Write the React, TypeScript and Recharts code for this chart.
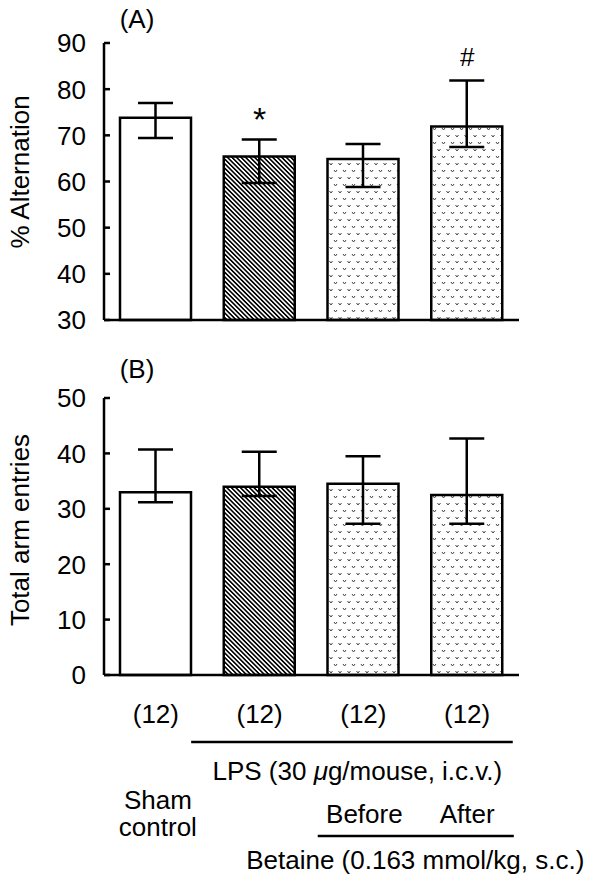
import React from 'react';
import { ComposedChart, Bar, Line, XAxis, YAxis, ErrorBar, Cell, LabelList, Label } from 'recharts';

// ---- data ----
const groups = ['Sham control', 'LPS', 'LPS + Betaine before', 'LPS + Betaine after'];
const nLabels = ['(12)', '(12)', '(12)', '(12)'];
const alternation = [73.8, 65.4, 64.9, 71.9];
const alternationErrLow = [4.4, 5.7, 6.1, 4.4];
const alternationErrHigh = [3.2, 3.7, 3.2, 10.0];
const alternationSig = ['', '*', '', '#'];
const entries = [33.0, 34.0, 34.5, 32.5];
const entriesErrLow = [1.8, 1.7, 7.2, 5.2];
const entriesErrHigh = [7.7, 6.3, 5.0, 10.2];
const alternationTicks = [30, 40, 50, 60, 70, 80, 90];
const entriesTicks = [0, 10, 20, 30, 40, 50];
const fills = ['#ffffff', 'url(#hatch)', 'url(#dots)', 'url(#dots)'];

const data = groups.map((g, i) => ({
  group: g,
  n: nLabels[i],
  alt: alternation[i],
  altErr: [alternationErrLow[i], alternationErrHigh[i]],
  altMark: alternationSig[i] ? alternation[i] + alternationErrHigh[i] : null,
  altSig: alternationSig[i],
  ent: entries[i],
  entErr: [entriesErrLow[i], entriesErrHigh[i]],
}));

// ---- layout ----
const FONT = '"Liberation Sans", Arial, Helvetica, sans-serif';
const FS = 26;
const W = 600;
const AXIS_X = 104;
const RIGHT = 81;
const BAND = (W - AXIS_X - RIGHT) / groups.length;

const YTick = (props: any) => {
  const { y, payload } = props;
  return (
    <g>
      <line x1={AXIS_X} x2={AXIS_X + 6} y1={y} y2={y} stroke="#000" strokeWidth={2.5} />
      <text x={AXIS_X - 18} y={y} dy="0.36em" textAnchor="end" fontSize={FS} fontFamily={FONT} fill="#000">
        {payload.value}
      </text>
    </g>
  );
};

const txt = (x: number, y: number, s: React.ReactNode, anchor = 'middle') => (
  <text x={x} y={y} textAnchor={anchor} fontSize={FS} fontFamily={FONT} fill="#000">{s}</text>
);

const XTickB = (props: any) => {
  const { x, y, payload } = props;
  const i = props.index ?? payload?.index ?? 0;
  return (
    <g>
      {txt(x, y + 48, nLabels[i])}
      {i === 0 && (
        <g>
          {txt(x + 2, y + 134, 'Sham')}
          {txt(x + 2, y + 161, 'control')}
        </g>
      )}
      {i === 1 && (
        <g>
          <line x1={x - 0.66 * BAND} x2={x + 2.44 * BAND} y1={y + 67} y2={y + 67} stroke="#000" strokeWidth={2.5} />
          {txt(x + BAND - 6, y + 105, <>LPS (30 <tspan fontStyle="italic">μ</tspan>g/mouse, i.c.v.)</>)}
        </g>
      )}
      {i === 2 && (
        <g>
          {txt(x + 1, y + 148, 'Before')}
          <line x1={x - 0.44 * BAND} x2={x + 1.45 * BAND} y1={y + 161} y2={y + 161} stroke="#000" strokeWidth={2.5} />
          {txt(x + 0.5 * BAND, y + 194, 'Betaine (0.163 mmol/kg, s.c.)')}
        </g>
      )}
      {i === 3 && txt(x, y + 148, 'After')}
    </g>
  );
};

const makeTitle = (title: string, panel: string, panelDy: number, titleDy: number) => (props: any) => {
  const vb = props.viewBox || { x: 0, y: 0, width: AXIS_X, height: 0 };
  const cx = 20;
  const cy = vb.y + vb.height / 2 + titleDy;
  return (
    <g>
      <text
        x={cx}
        y={cy}
        dy="0.35em"
        transform={`rotate(-90, ${cx}, ${cy})`}
        textAnchor="middle"
        fontSize={FS}
        fontFamily={FONT}
        fill="#000"
      >
        {title}
      </text>
      {txt(AXIS_X + 33, vb.y - panelDy, panel)}
    </g>
  );
};

const MarkLabel = (props: any) => {
  const { x, y, value } = props;
  if (!value || y == null) return null;
  const big = value === '*';
  return (
    <text
      x={x}
      y={big ? y - 8 : y - 14}
      textAnchor="middle"
      fontSize={big ? 34 : FS}
      fontFamily={FONT}
      fill="#000"
    >
      {value}
    </text>
  );
};

export default function App() {
  return (
    <div style={{ position: 'absolute', left: 0, top: 0, width: 600, height: 891, background: '#fff' }}>
      <svg width={0} height={0} style={{ position: 'absolute' }}>
        <defs>
          <pattern id="hatch" patternUnits="userSpaceOnUse" width={3.2} height={3.2} patternTransform="rotate(-45)">
            <rect width={3.2} height={3.2} fill="#fff" />
            <line x1={1.6} y1={0} x2={1.6} y2={3.2} stroke="#000" strokeWidth={1.6} />
          </pattern>
          <pattern id="dots" patternUnits="userSpaceOnUse" width={9} height={14}>
            <rect width={9} height={14} fill="#fff" />
            <path d="M1,2 L2.5,4 L4,2" stroke="#444" strokeWidth={1} fill="none" />
            <path d="M5.5,9 L7,11 L8.5,9" stroke="#444" strokeWidth={1} fill="none" />
          </pattern>
        </defs>
      </svg>

      <div style={{ position: 'absolute', left: 0, top: 0 }}>
        <ComposedChart width={600} height={340} data={data} margin={{ top: 43, right: RIGHT, left: 0, bottom: 0 }}>
          <XAxis dataKey="group" tick={false} height={20} axisLine={{ stroke: '#000', strokeWidth: 2.5 }} tickLine={false} />
          <YAxis
            width={AXIS_X}
            domain={[30, 90]}
            ticks={alternationTicks}
            interval={0}
            axisLine={{ stroke: '#000', strokeWidth: 2.5 }}
            tickLine={false}
            tick={<YTick />}
          >
            <Label content={makeTitle('% Alternation', '(A)', 15.5, -9.5)} />
          </YAxis>
          <Bar dataKey="alt" barSize={71} stroke="#000" strokeWidth={2.5} isAnimationActive={false}>
            {data.map((d, i) => (
              <Cell key={i} fill={fills[i]} />
            ))}
            <ErrorBar dataKey="altErr" width={17.5} stroke="#000" strokeWidth={2.5} direction="y" />
          </Bar>
          <Line dataKey="altMark" stroke="none" dot={false} activeDot={false} isAnimationActive={false}>
            <LabelList dataKey="altSig" content={MarkLabel} />
          </Line>
        </ComposedChart>
      </div>

      <div style={{ position: 'absolute', left: 0, top: 340 }}>
        <ComposedChart width={600} height={551} data={data} margin={{ top: 58, right: RIGHT, left: 0, bottom: 0 }}>
          <XAxis
            dataKey="group"
            height={216}
            interval={0}
            axisLine={{ stroke: '#000', strokeWidth: 2.5 }}
            tickLine={false}
            tickSize={0}
            tickMargin={0}
            tick={<XTickB />}
          />
          <YAxis
            width={AXIS_X}
            domain={[0, 50]}
            ticks={entriesTicks}
            interval={0}
            axisLine={{ stroke: '#000', strokeWidth: 2.5 }}
            tickLine={false}
            tick={<YTick />}
          >
            <Label content={makeTitle('Total arm entries', '(B)', 20, -6.5)} />
          </YAxis>
          <Bar dataKey="ent" barSize={71} stroke="#000" strokeWidth={2.5} isAnimationActive={false}>
            {data.map((d, i) => (
              <Cell key={i} fill={fills[i]} />
            ))}
            <ErrorBar dataKey="entErr" width={17.5} stroke="#000" strokeWidth={2.5} direction="y" />
          </Bar>
        </ComposedChart>
      </div>
    </div>
  );
}
